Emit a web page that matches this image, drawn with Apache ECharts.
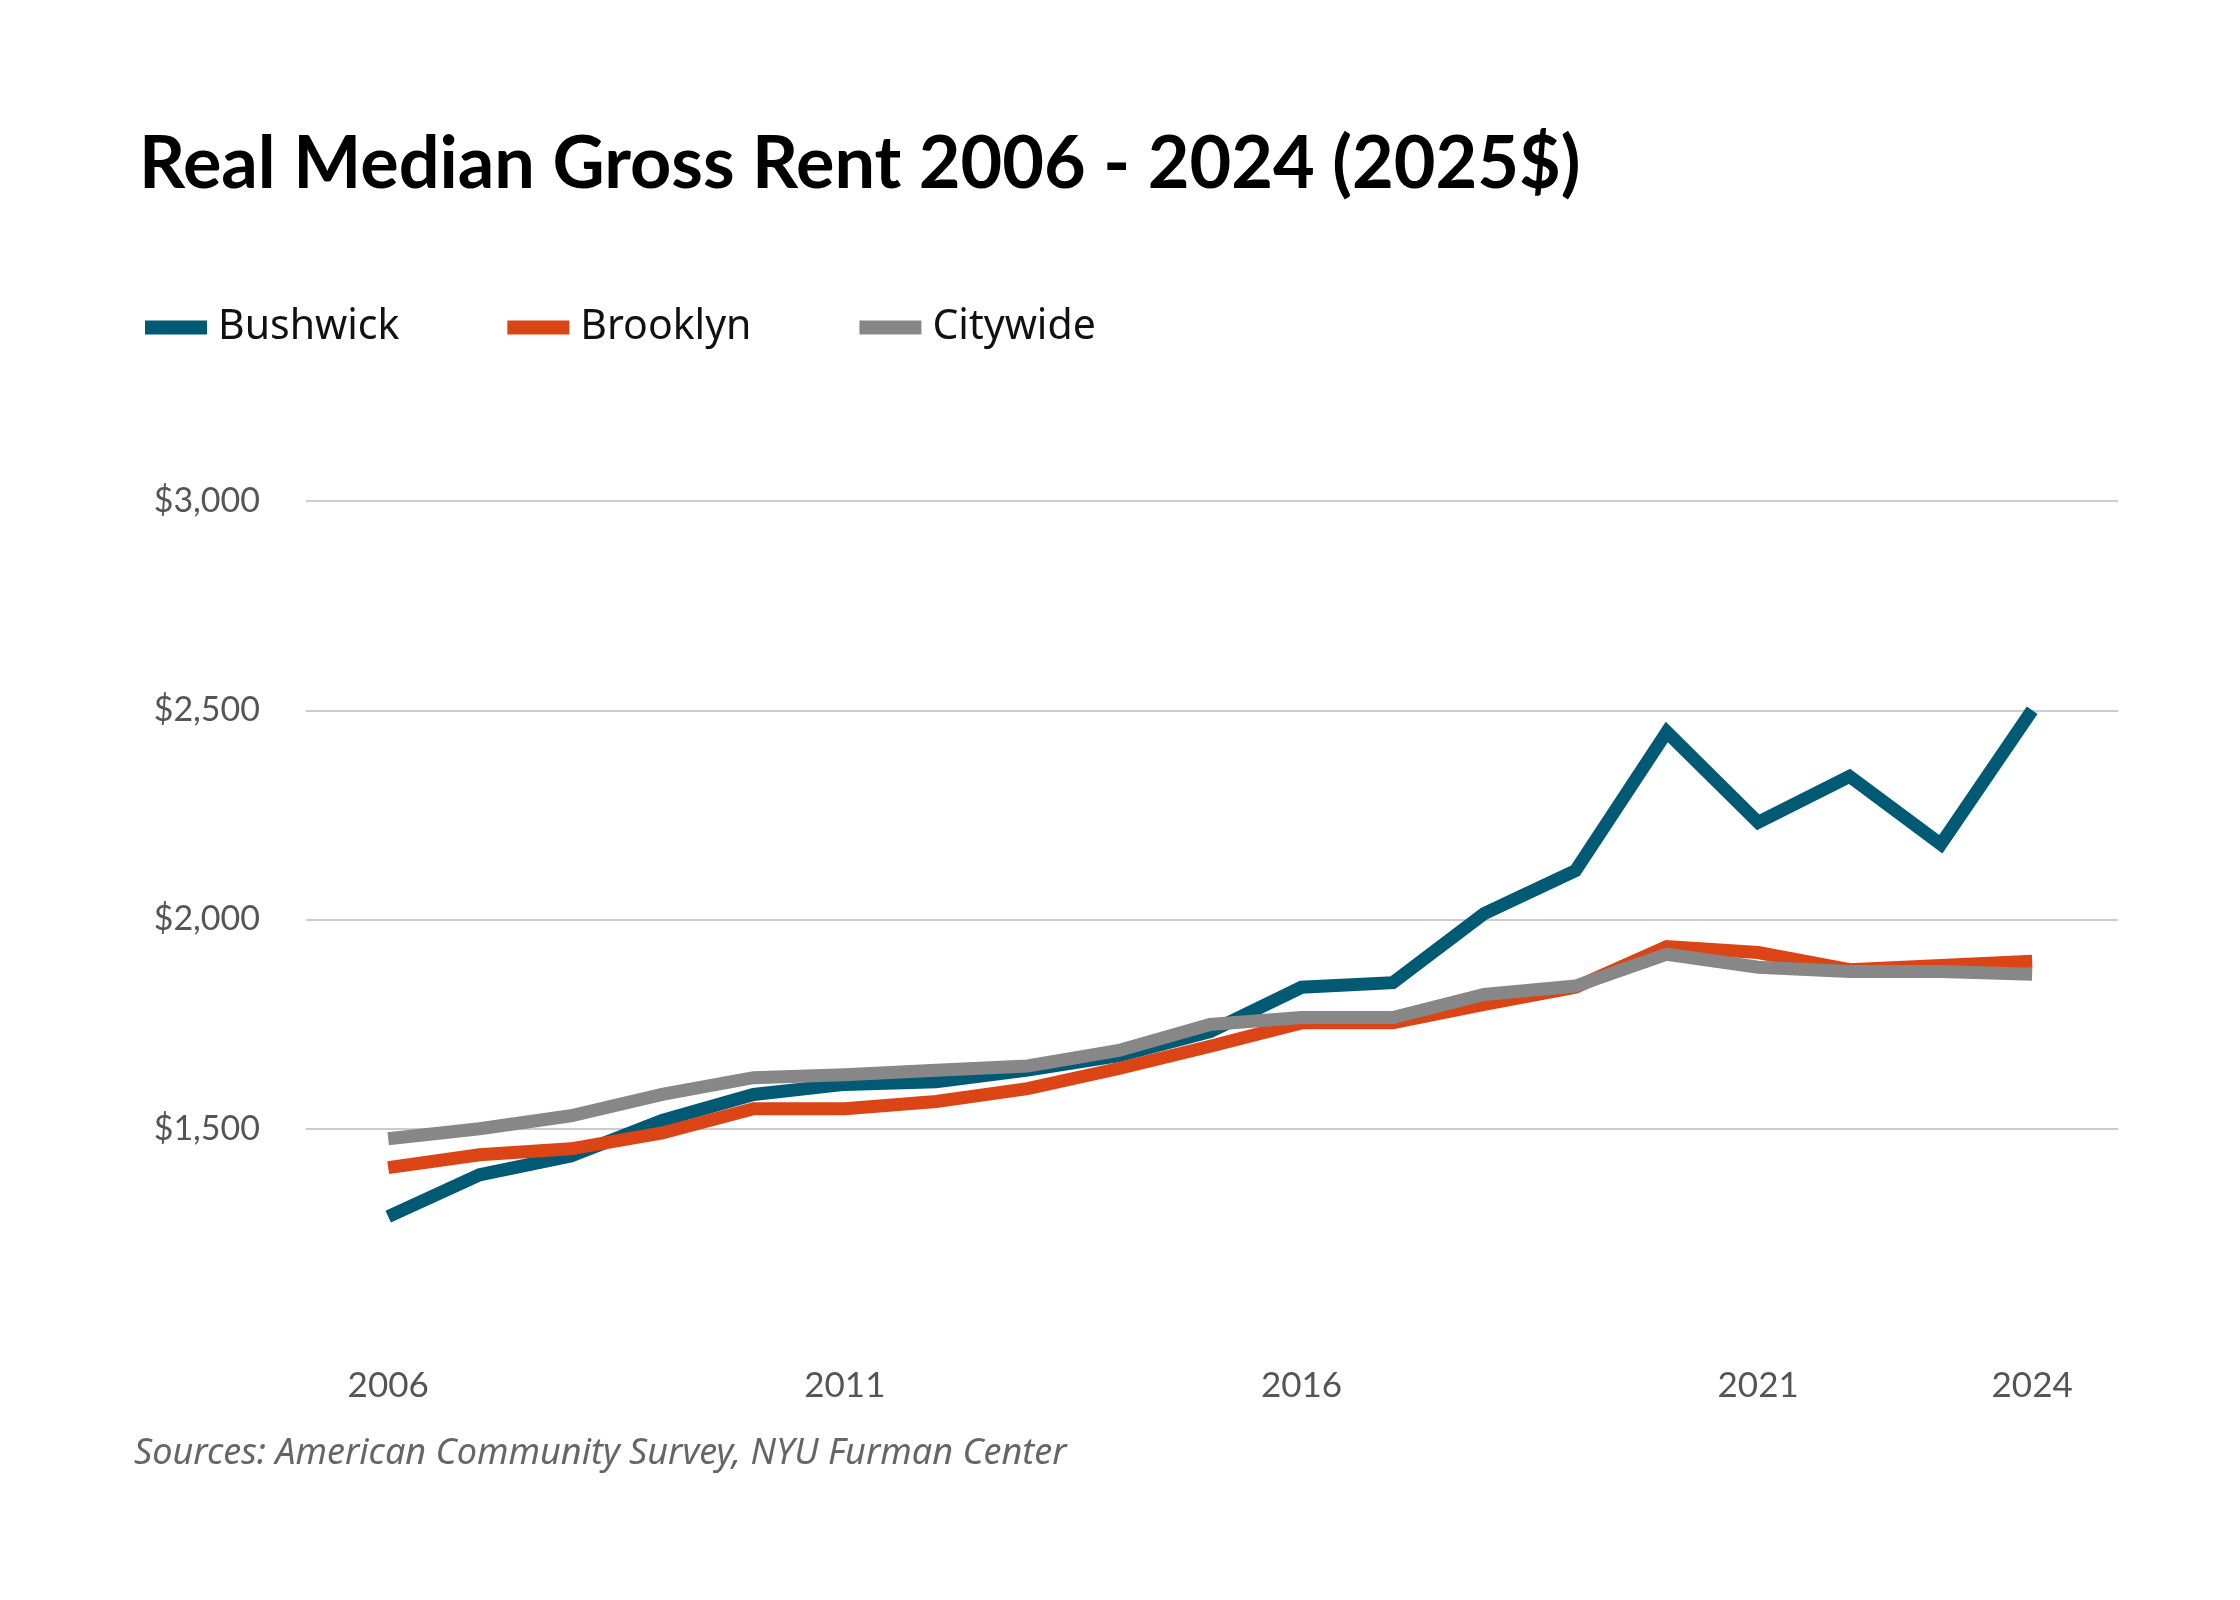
<!DOCTYPE html>
<html>
<head>
<meta charset="utf-8">
<script src="https://cdn.jsdelivr.net/npm/echarts@6/dist/echarts.min.js"></script>
<style>
html, body { margin: 0; padding: 0; background: #fff; }
#chartRoot { width: 2240px; height: 1600px; }
</style>
</head>
<body>
<div id="chartRoot"></div>
<script>
// years and real median gross rent (2025$)
const years = [2006, 2007, 2008, 2009, 2010, 2011, 2012, 2013, 2014, 2015, 2016, 2017, 2018, 2019, 2020, 2021, 2022, 2023, 2024];
const bushwick = [1290, 1390, 1435, 1520, 1582, 1606, 1612, 1640, 1675, 1732, 1838, 1849, 2014, 2117, 2448, 2232, 2342, 2180, 2500];
const brooklyn = [1407, 1438, 1452, 1490, 1548, 1548, 1565, 1596, 1644, 1697, 1753, 1753, 1797, 1838, 1935, 1921, 1880, 1890, 1900];
const citywide = [1476, 1500, 1531, 1582, 1622, 1629, 1640, 1650, 1687, 1749, 1766, 1766, 1821, 1841, 1917, 1886, 1876, 1876, 1869];
const yearTicks = [2006, 2011, 2016, 2021, 2024];

const pairs = vals => years.map((y, i) => [y, vals[i]]);
const mkSeries = (name, vals, color) => ({
    type: "line",
    name: name,
    data: pairs(vals),
    symbol: "none",
    lineStyle: { width: 13, color: color, join: "miter" },
    itemStyle: { color: color }
});

let myChart = echarts.init(document.querySelector("#chartRoot"));
let option = {
    backgroundColor: "#fff",
    animation: false,
    title: {
        text: "Real Median Gross Rent 2006 - 2024 (2025$)",
        left: 134,
        top: 124,
        textStyle: { fontFamily: "Lato", fontWeight: "bold", fontSize: 72, color: "#000" }
    },
    legend: {
        left: 140,
        top: 302,
        itemWidth: 62,
        itemHeight: 14,
        itemGap: 108,
        icon: "rect",
        textStyle: { fontFamily: "Noto Sans", fontSize: 41, color: "#111", padding: [0, 0, 0, 6] },
        data: ["Bushwick", "Brooklyn", "Citywide"]
    },
    grid: { left: 306, right: 122, top: 501, bottom: 262 },
    xAxis: {
        type: "value",
        min: 2005.1,
        max: 2024.94,
        axisLine: { show: false },
        axisTick: { show: false },
        splitLine: { show: false },
        axisLabel: {
            customValues: yearTicks,
            formatter: v => String(v),
            margin: 30,
            fontFamily: "Lato",
            fontSize: 35,
            color: "#555"
        }
    },
    yAxis: {
        type: "value",
        min: 1000,
        max: 3000,
        interval: 500,
        axisLine: { show: false },
        axisTick: { show: false },
        splitLine: { showMinLine: false, lineStyle: { color: "#ccc", width: 2 } },
        axisLabel: {
            formatter: v => v === 1000 ? "" : "$" + v.toLocaleString("en-US"),
            margin: 46,
            fontFamily: "Lato",
            fontSize: 34,
            color: "#555"
        }
    },
    graphic: [{
        type: "text",
        left: 134,
        top: 1436,
        style: {
            text: "Sources: American Community Survey, NYU Furman Center",
            fontFamily: "Noto Sans",
            fontStyle: "italic",
            fontSize: 36,
            fill: "#666"
        }
    }],
    series: [
        mkSeries("Bushwick", bushwick, "#005a74"),
        mkSeries("Brooklyn", brooklyn, "#db4414"),
        mkSeries("Citywide", citywide, "#878787")
    ]
};
myChart.setOption(option, true);
</script>
</body>
</html>
